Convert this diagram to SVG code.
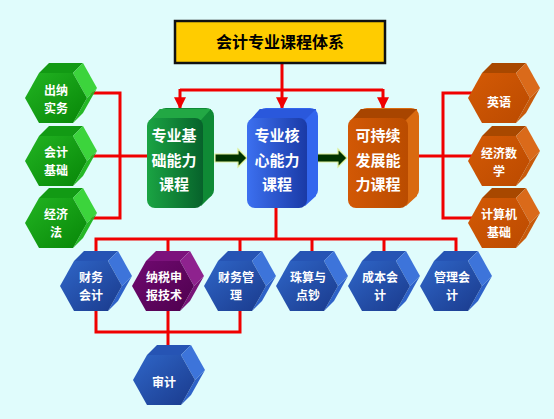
<svg xmlns="http://www.w3.org/2000/svg" width="554" height="419" viewBox="0 0 554 419">
<defs>
<linearGradient id="gHexF" x1="0" y1="0" x2="1" y2="1"><stop offset="0" stop-color="#22B422"/><stop offset="1" stop-color="#078607"/></linearGradient>
<linearGradient id="bHexF" x1="0" y1="0" x2="1" y2="1"><stop offset="0" stop-color="#2F66C8"/><stop offset="1" stop-color="#1A3A8C"/></linearGradient>
<linearGradient id="pHexF" x1="0" y1="0" x2="1" y2="1"><stop offset="0" stop-color="#700A70"/><stop offset="1" stop-color="#4E004E"/></linearGradient>
<linearGradient id="oHexF" x1="0" y1="0" x2="1" y2="1"><stop offset="0" stop-color="#D45A05"/><stop offset="1" stop-color="#BB4A00"/></linearGradient>
<linearGradient id="gBoxF" x1="0" y1="0" x2="1" y2="0"><stop offset="0" stop-color="#1AA443"/><stop offset="1" stop-color="#07622B"/></linearGradient>
<linearGradient id="bBoxF" x1="0" y1="0" x2="1" y2="0"><stop offset="0" stop-color="#3C70F0"/><stop offset="1" stop-color="#1A3AA6"/></linearGradient>
<linearGradient id="oBoxF" x1="0" y1="0" x2="1" y2="0"><stop offset="0" stop-color="#D25805"/><stop offset="1" stop-color="#BA4C00"/></linearGradient>
<marker id="ah" viewBox="0 0 10 10" refX="9" refY="5" markerWidth="4" markerHeight="4" orient="auto" markerUnits="strokeWidth"><path d="M0,0 L10,5 L0,10 Z" fill="#F00000"/></marker>
</defs>
<style>
.ln{fill:none;stroke:#F00000;stroke-width:3}
.ar{fill:none;stroke:#F00000;stroke-width:3;marker-end:url(#ah)}
.tx{font-family:"Noto Sans CJK SC","Noto Sans",sans-serif;font-weight:bold;fill:#FFFFFF;text-anchor:middle}
.hx .tx{font-size:12px}
.bx .tx{font-size:15px}
.green .t{fill:#129A14}.green .ur{fill:#3CD43C}.green .lr{fill:#25B825}.green .f{fill:url(#gHexF)}
.blue .t{fill:#2654B4}.blue .ur{fill:#3D74DA}.blue .lr{fill:#2E62C8}.blue .f{fill:url(#bHexF)}
.purple .t{fill:#7C127C}.purple .ur{fill:#8E228E}.purple .lr{fill:#781478}.purple .f{fill:url(#pHexF)}
.orange .t{fill:#A84800}.orange .ur{fill:#DA6A1A}.orange .lr{fill:#C85A0A}.orange .f{fill:url(#oHexF)}
.arw{fill:#003300;stroke:#DDEE99;stroke-width:1.2}
</style>
<rect x="0" y="0" width="554" height="419" fill="#E0FCFC"/>

<g id="connectors">
<path class="ln" d="M282,64 V90 M180,90 H383"/>
<path class="ar" d="M180,89 V108"/>
<path class="ar" d="M282,89 V108"/>
<path class="ar" d="M383,89 V108"/>
<path class="ln" d="M88,93 H120 V218 H88 M88,156 H150"/>
<path class="ln" d="M476,93 H443 V218 H476 M476,156 H405"/>
<path class="ln" d="M276,205 V239 M96,262 V239 H456 V262 M168,239 V262 M240,239 V262 M312,239 V262 M384,239 V262"/>
<path class="ln" d="M96,305 V332 H240 V305 M168,305 V360"/>
<polygon class="arw" points="215,154 238,154 238,149 247,158 238,167 238,162 215,162"/>
<polygon class="arw" points="317,154 338,154 338,149 347,158 338,167 338,162 317,162"/>
</g>

<g id="title">
<rect x="175" y="21" width="210" height="42" fill="#FFCC00" stroke="#111111" stroke-width="2.5"/>
<text x="280" y="48" font-family="'Noto Sans CJK SC','Noto Sans',sans-serif" font-weight="bold" font-size="16" fill="#000000" text-anchor="middle">会计专业课程体系</text>
</g>

<g id="box-jichu" class="bx">
<rect x="158" y="108" width="56" height="90" rx="8" fill="#0F8A35"/>
<polygon points="150,120 160,109 211,109 211,196 201,206 201,120" fill="#0F8A35"/>
<polygon points="149,122 160,109 211,109 201,120" fill="#22A844"/>
<rect x="147" y="118" width="56" height="90" rx="8" fill="url(#gBoxF)"/>
<text class="tx" x="174" y="141">专业基</text>
<text class="tx" x="174" y="166">础能力</text>
<text class="tx" x="174" y="190">课程</text>
</g>

<g id="box-hexin" class="bx">
<rect x="258" y="108" width="60" height="90" rx="8" fill="#3366EE"/>
<polygon points="250,120 260,109 316,109 316,196 305,206 305,120" fill="#3366EE"/>
<polygon points="249,122 260,109 316,109 305,120" fill="#2A58DC"/>
<rect x="247" y="118" width="60" height="90" rx="8" fill="url(#bBoxF)"/>
<text class="tx" x="277" y="141">专业核</text>
<text class="tx" x="277" y="166">心能力</text>
<text class="tx" x="277" y="190">课程</text>
</g>

<g id="box-fazhan" class="bx">
<rect x="359" y="108" width="60" height="90" rx="8" fill="#D96A10"/>
<polygon points="351,120 361,109 417,109 417,196 406,206 406,120" fill="#D96A10"/>
<polygon points="350,122 361,109 417,109 406,120" fill="#A84500"/>
<rect x="348" y="118" width="60" height="90" rx="8" fill="url(#oBoxF)"/>
<text class="tx" x="378" y="141">可持续</text>
<text class="tx" x="378" y="166">发展能</text>
<text class="tx" x="378" y="190">力课程</text>
</g>

<g id="hex-chuna" class="hx green" transform="translate(25,73)">
<polygon class="t" points="14,0 48,0 58,-10 24,-10"/><polygon class="ur" points="48,0 62,25 72,15 58,-10"/><polygon class="lr" points="62,25 48,50 58,40 72,15"/><polygon class="f" points="0,25 14,0 48,0 62,25 48,50 14,50"/>
<text class="tx" x="31" y="22">出纳</text><text class="tx" x="31" y="40">实务</text>
</g>
<g id="hex-kuaiji" class="hx green" transform="translate(25,136)">
<polygon class="t" points="14,0 48,0 58,-10 24,-10"/><polygon class="ur" points="48,0 62,25 72,15 58,-10"/><polygon class="lr" points="62,25 48,50 58,40 72,15"/><polygon class="f" points="0,25 14,0 48,0 62,25 48,50 14,50"/>
<text class="tx" x="31" y="21">会计</text><text class="tx" x="31" y="39">基础</text>
</g>
<g id="hex-jingjifa" class="hx green" transform="translate(25,198)">
<polygon class="t" points="14,0 48,0 58,-10 24,-10"/><polygon class="ur" points="48,0 62,25 72,15 58,-10"/><polygon class="lr" points="62,25 48,50 58,40 72,15"/><polygon class="f" points="0,25 14,0 48,0 62,25 48,50 14,50"/>
<text class="tx" x="31" y="21">经济</text><text class="tx" x="31" y="39">法</text>
</g>

<g id="hex-yingyu" class="hx orange" transform="translate(468,73)">
<polygon class="t" points="14,0 48,0 58,-10 24,-10"/><polygon class="ur" points="48,0 62,25 72,15 58,-10"/><polygon class="lr" points="62,25 48,50 58,40 72,15"/><polygon class="f" points="0,25 14,0 48,0 62,25 48,50 14,50"/>
<text class="tx" x="31" y="34">英语</text>
</g>
<g id="hex-shuxue" class="hx orange" transform="translate(468,136)">
<polygon class="t" points="14,0 48,0 58,-10 24,-10"/><polygon class="ur" points="48,0 62,25 72,15 58,-10"/><polygon class="lr" points="62,25 48,50 58,40 72,15"/><polygon class="f" points="0,25 14,0 48,0 62,25 48,50 14,50"/>
<text class="tx" x="31" y="22">经济数</text><text class="tx" x="31" y="40">学</text>
</g>
<g id="hex-jisuanji" class="hx orange" transform="translate(468,198)">
<polygon class="t" points="14,0 48,0 58,-10 24,-10"/><polygon class="ur" points="48,0 62,25 72,15 58,-10"/><polygon class="lr" points="62,25 48,50 58,40 72,15"/><polygon class="f" points="0,25 14,0 48,0 62,25 48,50 14,50"/>
<text class="tx" x="31" y="21">计算机</text><text class="tx" x="31" y="39">基础</text>
</g>

<g id="hex-caiwukuaiji" class="hx blue" transform="translate(60,261)">
<polygon class="t" points="14,0 48,0 58,-10 24,-10"/><polygon class="ur" points="48,0 62,25 72,15 58,-10"/><polygon class="lr" points="62,25 48,50 58,40 72,15"/><polygon class="f" points="0,25 14,0 48,0 62,25 48,50 14,50"/>
<text class="tx" x="31" y="21">财务</text><text class="tx" x="31" y="39">会计</text>
</g>
<g id="hex-nashui" class="hx purple" transform="translate(132,261)">
<polygon class="t" points="14,0 48,0 58,-10 24,-10"/><polygon class="ur" points="48,0 62,25 72,15 58,-10"/><polygon class="lr" points="62,25 48,50 58,40 72,15"/><polygon class="f" points="0,25 14,0 48,0 62,25 48,50 14,50"/>
<text class="tx" x="32" y="21">纳税申</text><text class="tx" x="32" y="39">报技术</text>
</g>
<g id="hex-caiwuguanli" class="hx blue" transform="translate(204,261)">
<polygon class="t" points="14,0 48,0 58,-10 24,-10"/><polygon class="ur" points="48,0 62,25 72,15 58,-10"/><polygon class="lr" points="62,25 48,50 58,40 72,15"/><polygon class="f" points="0,25 14,0 48,0 62,25 48,50 14,50"/>
<text class="tx" x="32" y="21">财务管</text><text class="tx" x="32" y="39">理</text>
</g>
<g id="hex-zhusuan" class="hx blue" transform="translate(276,261)">
<polygon class="t" points="14,0 48,0 58,-10 24,-10"/><polygon class="ur" points="48,0 62,25 72,15 58,-10"/><polygon class="lr" points="62,25 48,50 58,40 72,15"/><polygon class="f" points="0,25 14,0 48,0 62,25 48,50 14,50"/>
<text class="tx" x="32" y="21">珠算与</text><text class="tx" x="32" y="39">点钞</text>
</g>
<g id="hex-chengben" class="hx blue" transform="translate(348,261)">
<polygon class="t" points="14,0 48,0 58,-10 24,-10"/><polygon class="ur" points="48,0 62,25 72,15 58,-10"/><polygon class="lr" points="62,25 48,50 58,40 72,15"/><polygon class="f" points="0,25 14,0 48,0 62,25 48,50 14,50"/>
<text class="tx" x="32" y="21">成本会</text><text class="tx" x="32" y="39">计</text>
</g>
<g id="hex-guanli" class="hx blue" transform="translate(420,261)">
<polygon class="t" points="14,0 48,0 58,-10 24,-10"/><polygon class="ur" points="48,0 62,25 72,15 58,-10"/><polygon class="lr" points="62,25 48,50 58,40 72,15"/><polygon class="f" points="0,25 14,0 48,0 62,25 48,50 14,50"/>
<text class="tx" x="32" y="21">管理会</text><text class="tx" x="32" y="39">计</text>
</g>
<g id="hex-shenji" class="hx blue" transform="translate(133,355)">
<polygon class="t" points="14,0 48,0 58,-10 24,-10"/><polygon class="ur" points="48,0 62,25 72,15 58,-10"/><polygon class="lr" points="62,25 48,50 58,40 72,15"/><polygon class="f" points="0,25 14,0 48,0 62,25 48,50 14,50"/>
<text class="tx" x="31" y="32">审计</text>
</g>
</svg>
